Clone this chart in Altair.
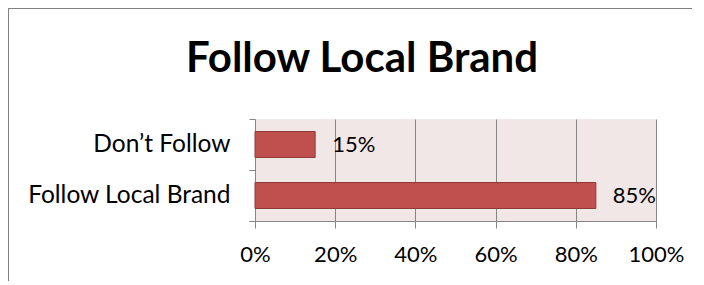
import altair as alt
import pandas as pd

title_text = "Follow Local Brand"
categories = ["Don’t Follow", "Follow Local Brand"]
values = [0.15, 0.85]
x_ticks = [0, 0.2, 0.4, 0.6, 0.8, 1.0]

df = pd.DataFrame({"cat": categories, "val": values})
tdf = pd.DataFrame({"t": [title_text]})

FONT = "Lato"
GRID = "#868686"
W, H = 401, 102
PAD_L, PAD_T, PAD_R, PAD_B = 247, 111, 36, 60

base = alt.Chart(df)

y_enc = alt.Y("cat:N", sort=categories, title=None,
              scale=alt.Scale(paddingInner=0, paddingOuter=0),
              axis=alt.Axis(tickBand="extent", ticks=True, tickSize=6, tickColor=GRID,
                            domainColor=GRID, grid=False, labelFontSize=24.5, labelFont=FONT,
                            labelColor="black", labelPadding=19, labelLimit=400))
x_enc = alt.X("val:Q", title=None,
              scale=alt.Scale(domain=[0, 1], nice=False),
              axis=alt.Axis(values=x_ticks, format=".0%", tickSize=7, tickColor=GRID,
                            domainColor=GRID, grid=True, gridColor=GRID, gridOpacity=1,
                            labelFontSize=22, labelFont=FONT, labelColor="black",
                            labelPadding=16, labelFlush=False))

bars = base.mark_bar(size=26, color="#C0504D", stroke="#8C3A38", strokeWidth=1).encode(
    x=x_enc, y=y_enc)

labels = base.mark_text(align="left", baseline="middle", dx=17, fontSize=22, font=FONT,
                        color="black").encode(
    x="val:Q", y=alt.Y("cat:N", sort=categories), text=alt.Text("val:Q", format=".0%"))

title = alt.Chart(tdf).mark_text(align="center", baseline="alphabetic", fontSize=42,
                                 font=FONT, fontWeight="bold", color="black").encode(
    x=alt.value(107), y=alt.value(-47), text="t:N")

frame_left = alt.Chart(df).mark_rule(color="#7f7f7f", strokeWidth=1).encode(
    x=alt.value(-PAD_L + 0.5), y=alt.value(-PAD_T + 0.5), y2=alt.value(H + PAD_B))
frame_top = alt.Chart(df).mark_rule(color="#7f7f7f", strokeWidth=1).encode(
    x=alt.value(-PAD_L + 0.5), x2=alt.value(W + PAD_R), y=alt.value(-PAD_T + 0.5))

chart = alt.layer(bars, labels, title, frame_left, frame_top).properties(
    width=W, height=H,
    autosize=alt.AutoSizeParams(type="none"),
    padding={"left": PAD_L, "top": PAD_T, "right": PAD_R, "bottom": PAD_B},
).configure_view(fill="#F2E7E7", stroke=None)

chart.save("out.html", embed_options={"renderer": "svg", "actions": False})
